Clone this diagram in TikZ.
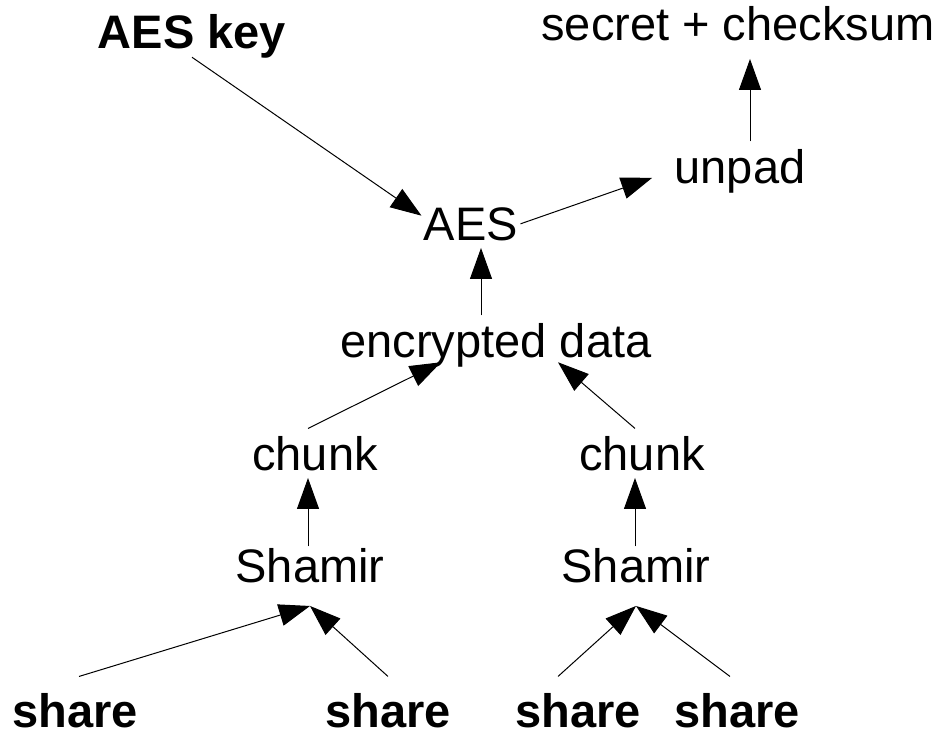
\documentclass[tikz,border=0pt]{standalone}
\usepackage{fontspec}
\setmainfont{Liberation Sans}
\usetikzlibrary{arrows.meta}

\begin{document}
\begin{tikzpicture}[x=1pt, y=-1pt, >={Triangle[length=31pt,width=22pt]}, line width=1pt,
  every node/.style={inner sep=7pt, anchor=base, font=\fontsize{47}{56}\selectfont},
  input/.style={font=\fontsize{47}{56}\selectfont\bfseries}]

% page area
\useasboundingbox (0,0) rectangle (944,737);

% key and result
\node[input] (key) at (192,48) {AES key};
\node (out) at (738,40) {secret + checksum};

% decryption steps
\node (unpad) at (740,183) {unpad};
\node (aes) at (471,240) {AES};
\node (enc) at (496,357) {encrypted data};

% chunks and their Shamir steps
\node (chunkl) at (315,470) {chunk};
\node (chunkr) at (642,470) {chunk};
\node (shamirl) at (310,582) {Shamir};
\node (shamirr) at (636,582) {Shamir};

% shares
\node[input] (share1) at (75,727) {share};
\node[input] (share2) at (388,727) {share};
\node[input] (share3) at (578,727) {share};
\node[input] (share4) at (737,727) {share};

% key, AES and unpad
\draw[->] ([yshift=8pt]key.south) -- ([shift={(5pt,-16pt)}]aes.north west);
\draw[->] ([xshift=-5pt]aes.east) -- ([shift={(-15pt,-7pt)}]unpad.west);
\draw[->] ([xshift=10pt]unpad.north) -- ([shift={(12pt,-11pt)}]out.south);
\draw[->] ([xshift=-15pt]enc.north) -- ([xshift=10pt]aes.south);

% chunks into encrypted data
\draw[->] ([xshift=-7pt]chunkl.north) -- ([shift={(-55pt,12pt)}]enc.south);
\draw[->] ([xshift=-7pt]chunkr.north) -- ([shift={(62pt,12pt)}]enc.south);
\draw[->] ([shift={(-2pt,-6pt)}]shamirl.north) -- ([xshift=-7pt]chunkl.south);
\draw[->] ([shift={(-1pt,-6pt)}]shamirr.north) -- ([xshift=-7pt]chunkr.south);

% shares into Shamir
\draw[->] ([shift={(4pt,9pt)}]share1.north) -- ([yshift=-16pt]shamirl.south);
\draw[->] ([yshift=9pt]share2.north) -- ([yshift=-16pt]shamirl.south);
\draw[->] ([shift={(-20pt,9pt)}]share3.north) -- ([yshift=-16pt]shamirr.south);
\draw[->] ([shift={(-7pt,9pt)}]share4.north) -- ([yshift=-16pt]shamirr.south);

\end{tikzpicture}
\end{document}
